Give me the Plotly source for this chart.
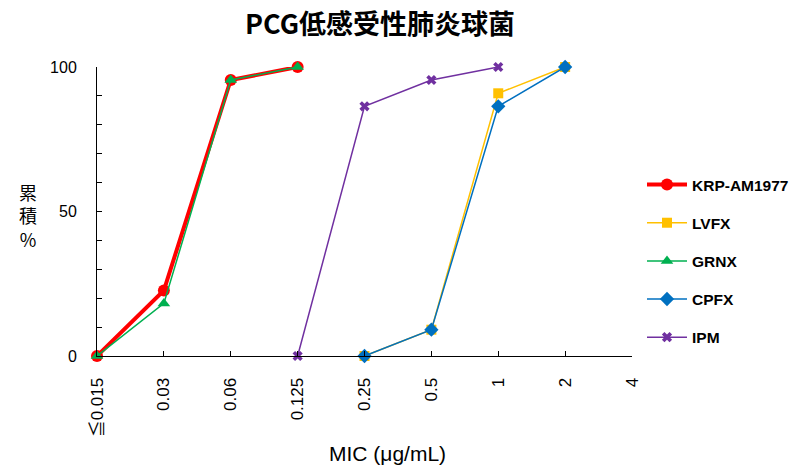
import plotly.graph_objects as go

categories = ["≦0.015", "0.03", "0.06", "0.125", "0.25", "0.5", "1", "2", "4"]

krp_x = ["≦0.015", "0.03", "0.06", "0.125"]
krp_y = [0, 22.7, 95.5, 100]

lvfx_x = ["0.25", "0.5", "1", "2"]
lvfx_y = [0, 9.1, 90.9, 100]

grnx_x = ["≦0.015", "0.03", "0.06", "0.125"]
grnx_y = [0, 18.2, 95.5, 100]

cpfx_x = ["0.25", "0.5", "1", "2"]
cpfx_y = [0, 9.1, 86.4, 100]

ipm_x = ["0.125", "0.25", "0.5", "1"]
ipm_y = [0, 86.4, 95.5, 100]

y_tickvals = list(range(0, 101, 10))
y_ticktext = ["0", "", "", "", "", "50", "", "", "", "", "100"]

y_label_chars = ["累", "積", "%"]

FONT = "Liberation Sans, Arial, Noto Sans CJK JP, sans-serif"
CJK = "Noto Sans CJK JP, Liberation Sans, sans-serif"

fig = go.Figure()

series = [
    ("KRP-AM1977", krp_x, krp_y, "#FF0000", 4, "circle", 12),
    ("LVFX", lvfx_x, lvfx_y, "#FFC000", 1.5, "square", 10),
    ("GRNX", grnx_x, grnx_y, "#00B050", 1.5, "triangle-up", 11),
    ("CPFX", cpfx_x, cpfx_y, "#0070C0", 1.5, "diamond", 11),
    ("IPM", ipm_x, ipm_y, "#7030A0", 1.5, "x", 9),
]

for name, xs, ys, color, lw, sym, ms in series:
    fig.add_trace(go.Scatter(
        x=xs, y=ys, name=name, mode="lines+markers",
        line=dict(color=color, width=lw),
        marker=dict(symbol=sym, size=ms, color=color, line=dict(width=0)),
        cliponaxis=False, legendgroup=name,
    ))

annotations = [
    dict(text="<br>".join(y_label_chars), xref="paper", yref="paper",
         x=(28 - 97) / 535, y=(356 - 215) / 289, xanchor="center", yanchor="middle",
         showarrow=False, font=dict(family=CJK, size=18, color="black")),
    dict(text="MIC (μg/mL)", xref="paper", yref="paper", x=(387 - 97) / 535,
         y=-(454 - 356) / 289, xanchor="center", yanchor="middle", showarrow=False,
         font=dict(family=FONT, size=21, color="black")),
]

fig.update_layout(
    width=794, height=466,
    margin=dict(l=97, r=162, t=67, b=110, autoexpand=False),
    paper_bgcolor="white", plot_bgcolor="white",
    font=dict(family=FONT, color="black"),
    title=dict(text="PCG低感受性肺炎球菌", x=380/794, xref="container", xanchor="center",
               y=1 - 25/466, yref="container", yanchor="middle",
               font=dict(family=CJK, size=27, weight="bold", color="black")),
    showlegend=True,
    legend=dict(xref="container", x=642/794, xanchor="left",
                yref="container", y=1 - 168/466, yanchor="top",
                font=dict(family=FONT, size=15.5, weight="bold", color="black"),
                itemwidth=40, tracegroupgap=15, traceorder="grouped",
                bgcolor="rgba(0,0,0,0)"),
    xaxis=dict(type="category", categoryorder="array", categoryarray=categories,
               range=[0, 8], showline=True, linecolor="black", linewidth=1,
               ticks="inside", ticklen=5, tickcolor="black",
               tickangle=-90, tickfont=dict(size=17, color="black"),
               ticklabelstandoff=14, showgrid=False, zeroline=False, automargin=False),
    yaxis=dict(range=[0, 100], showline=True, linecolor="black", linewidth=1,
               ticks="inside", ticklen=5, tickcolor="black",
               tickvals=y_tickvals, ticktext=y_ticktext,
               tickfont=dict(size=16, color="black"),
               ticklabelstandoff=16, showgrid=False, zeroline=False, automargin=False),
    annotations=annotations,
)

fig.write_html("out.html", config={"displayModeBar": False},
               post_script="document.body.style.margin='0';")
